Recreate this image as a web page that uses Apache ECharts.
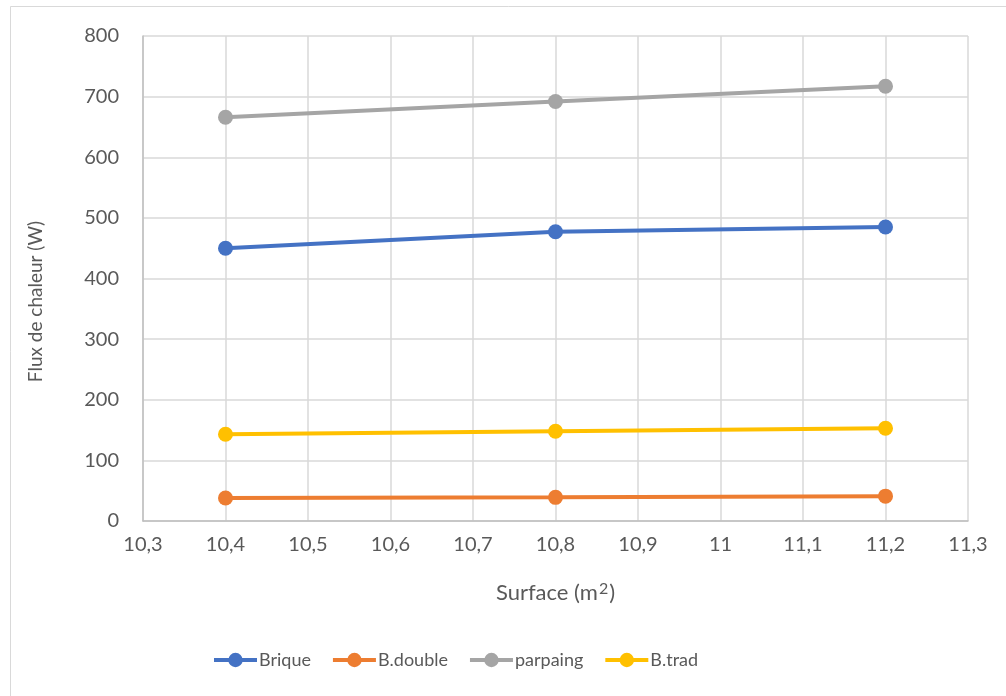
<!DOCTYPE html>
<html>
<head>
<meta charset="utf-8">
<script src="https://cdn.jsdelivr.net/npm/echarts@6/dist/echarts.min.js"></script>
<style>
  html, body { margin: 0; padding: 0; background: #fff; }
  #chart { width: 1006px; height: 696px; }
</style>
</head>
<body>
<div id="chart"></div>
<script>
// Surface values (m²)
const surfaces = [10.4, 10.8, 11.2];
// Heat flux per wall type (W)
const brique = [450, 477, 485];
const bDouble = [38, 39, 41];
const parpaing = [666, 692, 717];
const bTrad = [143, 148, 153];

const seriesNames = ['Brique', 'B.double', 'parpaing', 'B.trad'];
const seriesColors = ['#4472C4', '#ED7D31', '#A5A5A5', '#FFC000'];
const seriesValues = [brique, bDouble, parpaing, bTrad];

const FONT = 'Lato, "Open Sans", sans-serif';
const TEXT = '#595959';

const chart = echarts.init(document.getElementById('chart'), null, { renderer: 'canvas' });

const fmt = v => String(Math.round(v * 10) / 10).replace('.', ',');

chart.setOption({
  animation: false,
  backgroundColor: '#fff',
  graphic: [{
    type: 'rect',
    shape: { x: 10.5, y: 6.5, width: 1020, height: 720 },
    style: { fill: 'none', stroke: '#d9d9d9', lineWidth: 1 },
    silent: true
  }],
  grid: { left: 143, right: 38, top: 36, bottom: 175 },
  legend: {
    bottom: 22,
    left: 207,
    itemWidth: 43,
    itemHeight: 18,
    itemGap: 20,
    lineStyle: { width: 4 },
    textStyle: { fontFamily: FONT, fontSize: 18, color: TEXT, padding: [0, 0, 0, -3] },
    data: seriesNames
  },
  xAxis: {
    type: 'value',
    min: 10.3,
    max: 11.3,
    interval: 0.1,
    name: 'Surface (m{sup|2})',
    nameLocation: 'middle',
    nameGap: 60,
    nameTextStyle: {
      fontFamily: FONT, fontSize: 22, color: TEXT,
      rich: { sup: { fontFamily: FONT, fontSize: 16, color: TEXT, verticalAlign: 'top', padding: [0, 1, 8, 1] } }
    },
    axisLine: { show: true, lineStyle: { color: '#bfbfbf', width: 1.5 } },
    axisTick: { show: false },
    axisLabel: { fontFamily: FONT, fontSize: 20, color: TEXT, margin: 14, formatter: fmt },
    splitLine: { show: true, lineStyle: { color: '#d9d9d9', width: 1.5 } }
  },
  yAxis: {
    type: 'value',
    min: 0,
    max: 800,
    interval: 100,
    name: 'Flux de chaleur (W)',
    nameLocation: 'middle',
    nameGap: 98,
    nameTextStyle: { fontFamily: FONT, fontSize: 19, color: TEXT, padding: [0, 46, 0, 0] },
    axisLine: { show: true, lineStyle: { color: '#bfbfbf', width: 1.5 } },
    axisTick: { show: false },
    axisLabel: { fontFamily: FONT, fontSize: 20, color: TEXT, margin: 24 },
    splitLine: { show: true, lineStyle: { color: '#d9d9d9', width: 1.5 } }
  },
  series: seriesNames.map((name, i) => ({
    name,
    type: 'line',
    data: surfaces.map((s, j) => [s, seriesValues[i][j]]),
    color: seriesColors[i],
    symbol: 'circle',
    symbolSize: 15,
    lineStyle: { width: 4, color: seriesColors[i] },
    itemStyle: { color: seriesColors[i] }
  }))
});
</script>
</body>
</html>
